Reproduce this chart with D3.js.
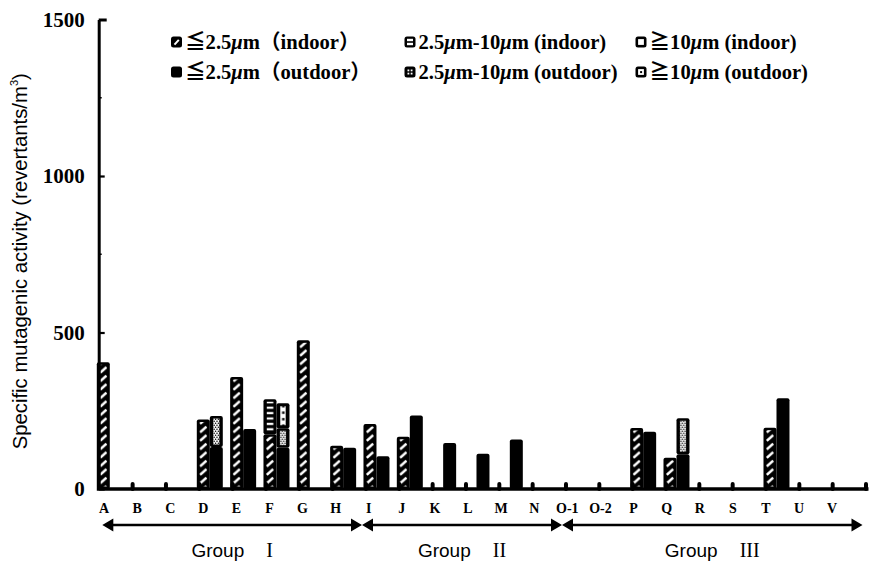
<!DOCTYPE html>
<html>
<head>
<meta charset="utf-8">
<script src="https://cdn.jsdelivr.net/npm/d3@7"></script>
<style>
  html, body { margin: 0; padding: 0; background: #fff; }
  svg { display: block; }
</style>
</head>
<body>
<svg id="chart" width="869" height="565"></svg>
<script>
// Sampling sites (x axis)
const sites = ["A","B","C","D","E","F","G","H","I","J","K","L","M","N","O-1","O-2","P","Q","R","S","T","U","V"];

// Specific mutagenic activity (revertants/m3)
const indoorFine    = [405,0,0,222,358,175,475,138,208,167,0,0,0,0,0,0,195,100,0,0,196,0,0];
const indoorMid     = [0,0,0,0,0,112,0,0,0,0,0,0,0,0,0,0,0,0,0,0,0,0,0];
const indoorCoarse  = [0,0,0,0,0,0,0,0,0,0,0,0,0,0,0,0,0,0,0,0,0,0,0];
const outdoorFine   = [0,0,0,134,192,132,0,132,105,235,147,113,158,0,0,0,183,111,0,0,290,0,0];
const outdoorMid    = [0,0,0,99,0,62,0,0,0,0,0,0,0,0,0,0,0,115,0,0,0,0,0];
const outdoorCoarse = [0,0,0,0,0,80,0,0,0,0,0,0,0,0,0,0,0,0,0,0,0,0,0];

const yTicks = [0, 500, 1000, 1500];
const yMinorTicks = [250, 750, 1250];

const legendIndoor  = ["≦2.5μm（indoor）", "2.5μm-10μm (indoor)", "≧10μm (indoor)"];
const legendOutdoor = ["≦2.5μm（outdoor）", "2.5μm-10μm (outdoor)", "≧10μm (outdoor)"];

const groupNames = ["Group", "Group", "Group"];
const groupNumerals = ["I", "II", "III"];
const groupFirst = ["A", "I", "O-1"];

const serif = "'Liberation Serif','Times New Roman','Noto Sans CJK JP',serif";
const cjkSerif = "'Liberation Serif','Noto Sans CJK JP',serif";
const sans = "'Liberation Sans',Arial,sans-serif";

const svg = d3.select("#chart");
const defs = svg.append("defs");

// scales
const x = d3.scaleBand().domain(sites).range([99.3, 866]).paddingInner(0).paddingOuter(0);
const step = x.step();
const y = d3.scaleLinear().domain([0, 1500]).range([489, 19.5]);
// labels drift slightly relative to the bars in the original
const xLabel = d3.scalePoint().domain(sites).range([x("A") + 4.7, x("V") - 0.6]);

const barW = 13;
const inOff = -2.5;   // indoor bar offset from the category tick
const outOff = 10.5;  // outdoor bar next to it

// ---- fill patterns (one tile per category, so they line up with each bar) ----
const makePattern = (id, h, draw) => {
    const p = defs.append("pattern")
        .attr("id", id)
        .attr("patternUnits", "userSpaceOnUse")
        .attr("x", x.range()[0])
        .attr("y", 0)
        .attr("width", step)
        .attr("height", h);
    draw(p);
};

// <=2.5 indoor: white slashes on black
makePattern("hatchIn", 8.5, p => {
    p.append("rect").attr("width", step).attr("height", 8.5).attr("fill", "#000");
    p.append("line").attr("x1", 0.8).attr("y1", 7.4).attr("x2", 7.2).attr("y2", 1.6)
        .attr("stroke", "#fff").attr("stroke-width", 2.5);
});
// 2.5-10 indoor: white horizontal dashes
makePattern("barsIn", 5.4, p => {
    p.append("rect").attr("width", step).attr("height", 5.4).attr("fill", "#000");
    p.append("rect").attr("x", 0.8).attr("y", 1.6).attr("width", 6.6).attr("height", 2.2).attr("fill", "#fff");
});
// 2.5-10 outdoor: stippled white column
makePattern("dotsOut", 4, p => {
    p.append("rect").attr("width", step).attr("height", 4).attr("fill", "#fff");
    [14.2, 17.0, 19.8].forEach(cx => {
        p.append("rect").attr("x", cx).attr("y", 0.6).attr("width", 1.3).attr("height", 1.3).attr("fill", "#000");
        p.append("rect").attr("x", cx - 1.4).attr("y", 2.6).attr("width", 1.3).attr("height", 1.3).attr("fill", "#000");
    });
});
// >=10 outdoor: white with a column of black dots
makePattern("coarseOut", 6.5, p => {
    p.append("rect").attr("width", step).attr("height", 6.5).attr("fill", "#fff");
    p.append("rect").attr("x", 16.1).attr("y", 2).attr("width", 2.4).attr("height", 2.4).attr("fill", "#000");
});

const indoorStyle = {
    fine:   { fill: "url(#hatchIn)", ix: 2.6, iy: 2.5 },
    mid:    { fill: "url(#barsIn)", ix: 2.6, iy: 2.5 },
    coarse: { fill: "#fff", ix: 3, iy: 3 }
};
const outdoorStyle = {
    fine:   null,
    mid:    { fill: "url(#dotsOut)", ix: 3.4, iy: 2.5 },
    coarse: { fill: "url(#coarseOut)", ix: 3.8, iy: 3 }
};

const makeRows = (fine, mid, coarse) =>
    sites.map((s, i) => ({ site: s, fine: fine[i], mid: mid[i], coarse: coarse[i] }));

const drawBars = (rows, off, style, cls) => {
    const stacked = d3.stack().keys(["fine", "mid", "coarse"])(rows);
    const segs = stacked.flatMap(ser => ser.map(d => ({ key: ser.key, site: d.data.site, y0: d[0], y1: d[1] })))
        .filter(d => d.y1 > d.y0);

    const g = svg.append("g").attr("class", cls);

    g.selectAll("rect.outer")
        .data(segs)
        .join("rect")
        .attr("class", "outer")
        .attr("x", d => x(d.site) + off)
        .attr("width", barW)
        .attr("y", d => y(d.y1))
        .attr("height", d => y(d.y0) - y(d.y1))
        .attr("rx", 2)
        .attr("fill", "#000");

    g.selectAll("rect.inner")
        .data(segs.filter(d => style[d.key]))
        .join("rect")
        .attr("class", "inner")
        .attr("x", d => x(d.site) + off + style[d.key].ix)
        .attr("width", d => barW - 2 * style[d.key].ix)
        .attr("y", d => y(d.y1) + style[d.key].iy)
        .attr("height", d => Math.max(0, y(d.y0) - y(d.y1) - 2 * style[d.key].iy))
        .attr("fill", d => style[d.key].fill);
};

drawBars(makeRows(indoorFine, indoorMid, indoorCoarse), inOff, indoorStyle, "indoor");
drawBars(makeRows(outdoorFine, outdoorMid, outdoorCoarse), outOff, outdoorStyle, "outdoor");

// ---- y axis ----
const yAxisX = 98.7;
const yAxis = svg.append("g")
    .attr("transform", `translate(${yAxisX},0)`)
    .call(d3.axisLeft(y).tickValues(yTicks).tickSize(-6).tickSizeOuter(0).tickPadding(14).tickFormat(d3.format("d")));
yAxis.select(".domain").attr("stroke", "#000").attr("stroke-width", 3);
yAxis.selectAll(".tick line").attr("stroke", "#000").attr("stroke-width", 2.2);
yAxis.selectAll(".tick text")
    .attr("fill", "#000")
    .style("font-family", serif)
    .style("font-weight", "bold")
    .style("font-size", "21px");
yAxis.selectAll(".tick").filter(d => d === 1500).select("line").attr("x2", 8).attr("stroke-width", 3);

svg.append("g")
    .attr("transform", `translate(${yAxisX},0)`)
    .selectAll("line")
    .data(yMinorTicks)
    .join("line")
    .attr("x1", 0).attr("x2", 3)
    .attr("y1", d => y(d)).attr("y2", d => y(d))
    .attr("stroke", "#000").attr("stroke-width", 1.5);

// y title: sized so it runs from about y=450 up to y=73 like the original
const yTitle = svg.append("text")
    .attr("transform", `translate(22,${(y(0) + y(1500)) / 2 + 7}) rotate(-90)`)
    .attr("text-anchor", "middle")
    .attr("dominant-baseline", "middle")
    .attr("fill", "#000")
    .style("font-family", sans)
    .style("font-size", "18px");
yTitle.append("tspan").text("Specific mutagenic activity (revertants/m");
yTitle.append("tspan").attr("dy", -7).style("font-size", "11px").text("3");
yTitle.append("tspan").attr("dy", 7).text(")");
const titleLen = yTitle.node().getComputedTextLength();
if (titleLen > 0) yTitle.style("font-size", `${Math.min(21, 18 * 377 / titleLen)}px`);

// ---- x axis ----
const baseY = y(0);
svg.append("line")
    .attr("x1", x.range()[0] - 2.5).attr("x2", x.range()[1] + 2.5)
    .attr("y1", baseY).attr("y2", baseY)
    .attr("stroke", "#000").attr("stroke-width", 3.4);

const tickXs = sites.slice(1).map(s => x(s)).concat([x.range()[1]]);
svg.append("g")
    .selectAll("line")
    .data(tickXs)
    .join("line")
    .attr("x1", d => d).attr("x2", d => d)
    .attr("y1", baseY).attr("y2", baseY - 5)
    .attr("stroke", "#000").attr("stroke-width", 4).attr("stroke-linecap", "round");

svg.append("g")
    .selectAll("text")
    .data(sites)
    .join("text")
    .attr("x", d => xLabel(d))
    .attr("y", 513)
    .attr("text-anchor", "middle")
    .style("font-family", serif)
    .style("font-weight", "bold")
    .style("font-size", "14px")
    .text(d => d);

// ---- group arrows ----
const arrowY = 525;
const groupStarts = groupFirst.map((s, i) => i === 0 ? x(s) + 3 : x(s) - 4);
const groupEnds = groupStarts.slice(1).concat([x.range()[1] - 3.5]);
const ah = 11, aw = 6.5;

const groupG = svg.append("g");
groupNames.forEach((name, i) => {
    const x0 = groupStarts[i], x1 = groupEnds[i];
    groupG.append("line")
        .attr("x1", x0 + ah - 1).attr("x2", x1 - ah + 1)
        .attr("y1", arrowY).attr("y2", arrowY)
        .attr("stroke", "#000").attr("stroke-width", 2.6);
    groupG.append("path")
        .attr("d", `M${x0},${arrowY}L${x0 + ah},${arrowY - aw}L${x0 + ah},${arrowY + aw}Z`)
        .attr("fill", "#000");
    groupG.append("path")
        .attr("d", `M${x1},${arrowY}L${x1 - ah},${arrowY - aw}L${x1 - ah},${arrowY + aw}Z`)
        .attr("fill", "#000");
    const t = groupG.append("text")
        .attr("x", (x0 + x1) / 2)
        .attr("y", 557)
        .attr("text-anchor", "middle")
        .style("font-family", sans)
        .style("font-size", "19px")
        .text(name);
    t.append("tspan")
        .attr("dx", 22)
        .style("font-family", serif)
        .style("font-size", "20px")
        .text(groupNumerals[i]);
});

// ---- legend ----
const legendColX = [171, 404.5, 635.5];
const legendRowY = [42, 72];
const iconSize = 11;

const drawIcon = (g, kind) => {
    g.append("rect").attr("width", iconSize).attr("height", iconSize).attr("rx", 2.5).attr("fill", "#000");
    if (kind === "fineIn") {
        g.append("line").attr("x1", 3.5).attr("y1", 8.2).attr("x2", 7.8).attr("y2", 3.4)
            .attr("stroke", "#fff").attr("stroke-width", 2);
    } else if (kind === "midIn") {
        g.append("rect").attr("x", 2.5).attr("y", 2.3).attr("width", 6).attr("height", 2.4).attr("fill", "#fff");
        g.append("rect").attr("x", 2.5).attr("y", 6.3).attr("width", 6).attr("height", 2.4).attr("fill", "#fff");
    } else if (kind === "midOut") {
        [[3, 3], [6.2, 3], [3, 6.2], [6.2, 6.2]].forEach(([a, b]) =>
            g.append("rect").attr("x", a).attr("y", b).attr("width", 1.8).attr("height", 1.8).attr("fill", "#fff"));
    } else if (kind === "coarseIn") {
        g.append("rect").attr("x", 2.6).attr("y", 2.6).attr("width", 5.8).attr("height", 5.8).attr("fill", "#fff");
    } else if (kind === "coarseOut") {
        g.append("rect").attr("x", 2.6).attr("y", 2.6).attr("width", 5.8).attr("height", 5.8).attr("fill", "#fff");
        g.append("rect").attr("x", 4.6).attr("y", 4.6).attr("width", 2).attr("height", 2).attr("fill", "#000");
    }
};

const addMuText = (textSel, label) => {
    label.split("μ").forEach((part, i) => {
        if (i > 0) textSel.append("tspan").style("font-style", "italic").text("μ");
        if (part) textSel.append("tspan").text(part);
    });
};

const legendRows = [
    { labels: legendIndoor, kinds: ["fineIn", "midIn", "coarseIn"] },
    { labels: legendOutdoor, kinds: ["fineOut", "midOut", "coarseOut"] }
];
const legend = svg.append("g");
legendRows.forEach((row, r) => {
    row.labels.forEach((label, c) => {
        const g = legend.append("g")
            .attr("transform", `translate(${legendColX[c]},${legendRowY[r] - iconSize / 2})`);
        drawIcon(g, row.kinds[c]);
        const t = legend.append("text")
            .attr("x", legendColX[c] + 14)
            .attr("y", legendRowY[r] + 7)
            .style("font-family", cjkSerif)
            .style("font-weight", "bold")
            .style("font-size", "20.6px");
        addMuText(t, label);
    });
});
</script>
</body>
</html>
